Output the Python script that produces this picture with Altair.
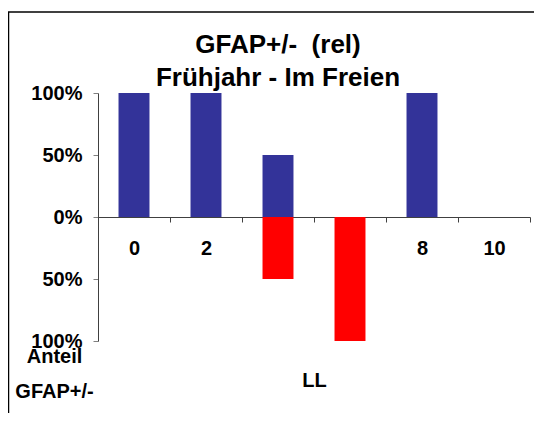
import altair as alt
import pandas as pd

categories = ["0", "2", "4", "6", "8", "10"]
positive = [1.0, 1.0, 0.5, 0.0, 1.0, 0.0]
negative = [0.0, 0.0, -0.5, -1.0, 0.0, 0.0]
series_names = ["GFAP+", "GFAP-"]
colors = ["#333399", "#FF0000"]
y_ticks = [-1, -0.5, 0, 0.5, 1]
title_lines = ["GFAP+/-\u00a0 (rel)", "Frühjahr - Im Freien"]
y_title = ["Anteil", "GFAP+/-"]
x_title = "LL"

rows = []
for c, p, n in zip(categories, positive, negative):
    rows.append({"LL": c, "series": series_names[0], "value": p})
    rows.append({"LL": c, "series": series_names[1], "value": n})
df = pd.DataFrame(rows)

FONT = "Liberation Sans, Arial, sans-serif"
W, H = 432, 248

bars = alt.Chart(df).mark_bar(width=alt.RelativeBandSize(0.43)).encode(
    x=alt.X(
        "LL:N", sort=categories,
        scale=alt.Scale(paddingInner=0, paddingOuter=0),
        axis=alt.Axis(
            title=x_title, orient="bottom", offset=-H / 2, tickBand="extent",
            labelAngle=0, labelFontSize=20, labelFontWeight="bold", labelFont=FONT,
            labelColor="black", labelPadding=16, tickSize=5,
            titleFontSize=20, titleFontWeight="bold", titleFont=FONT, titleColor="black",
            titleY=169, titleBaseline="alphabetic",
            domainColor="#404040", tickColor="#404040", grid=False,
        ),
    ),
    y=alt.Y(
        "value:Q", stack=None,
        scale=alt.Scale(domain=[-1, 1], nice=False),
        axis=alt.Axis(
            values=y_ticks, labelExpr="format(abs(datum.value), '.0%')",
            labelFontSize=20, labelFontWeight="bold", labelFont=FONT, labelColor="black",
            labelPadding=11, tickSize=5,
            title=y_title, titleAngle=0, titleAlign="center", titleBaseline="top",
            titleX=-44, titleY=253, titleLineHeight=35,
            titleFontSize=20, titleFontWeight="bold", titleFont=FONT, titleColor="black",
            domainColor="#404040", tickColor="#808080", grid=False,
        ),
    ),
    color=alt.Color("series:N", scale=alt.Scale(domain=series_names, range=colors), legend=None),
)

frame_data = alt.Data(values=[{"k": 1}])
frame_left = alt.Chart(frame_data).mark_rule(color="black", strokeWidth=1.5).encode(
    x=alt.value(-89.5), y=alt.value(-81), y2=alt.value(330)
)
frame_top = alt.Chart(frame_data).mark_rule(color="black", strokeWidth=1.5).encode(
    x=alt.value(-90), x2=alt.value(460), y=alt.value(-81)
)

chart = alt.layer(frame_left, frame_top, bars).properties(
    width=W, height=H,
    title=alt.TitleParams(
        text=title_lines, fontSize=26, font=FONT, fontWeight="bold", color="black",
        anchor="middle", frame="group", dx=-36, lineHeight=33, offset=-80,
    ),
    autosize=alt.AutoSizeParams(type="none"),
    padding={"left": 90, "top": 85, "right": 4, "bottom": 72},
).configure_view(stroke=None)

chart.save("out.html", embed_options={"renderer": "svg", "actions": False})
